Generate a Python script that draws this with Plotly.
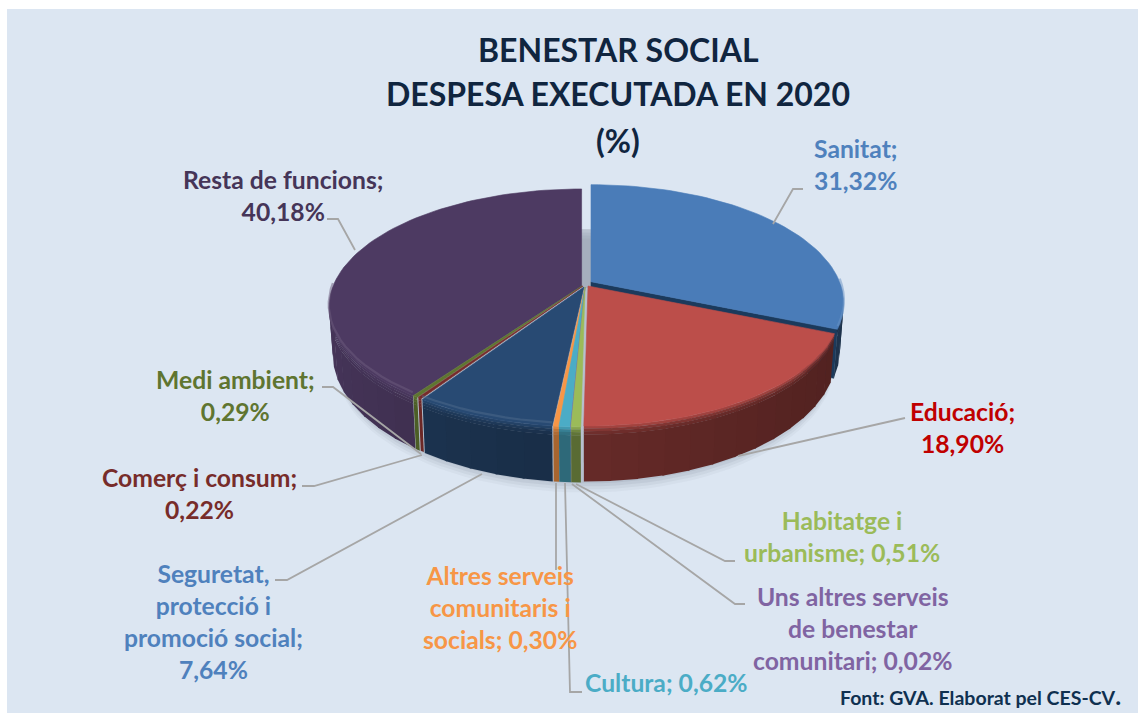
import math
import plotly.graph_objects as go

# ---- data ----
categories = ["Sanitat", "Educació", "Habitatge i urbanisme", "Uns altres serveis de benestar comunitari",
              "Cultura", "Altres serveis comunitaris i socials", "Seguretat, protecció i promoció social",
              "Comerç i consum", "Medi ambient", "Resta de funcions"]
values = [31.32, 18.90, 0.51, 0.02, 0.62, 0.30, 7.64, 0.22, 0.29, 40.18]
top_colors = ["#4a7cb8", "#bc4e4a", "#9bbb59", "#8064a2", "#4bacc6", "#f79646", "#284a73", "#772c2a", "#5f7530", "#4d3a62"]
label_colors = ["#4f81bd", "#c00000", "#9bbb59", "#8064a2", "#4bacc6", "#f79646", "#4f81bd", "#772c2a", "#5f7530", "#453558"]
side_factors = [0.45, 0.47, 0.57, 0.6, 0.6, 0.66, 0.6, 0.8, 0.7, 0.72]
label_templates = ["Sanitat;<br>{v}", "Educació;<br>{v}", "Habitatge i<br>urbanisme; {v}",
                   "Uns altres serveis<br>de benestar<br>comunitari; {v}", "Cultura; {v}",
                   "Altres serveis<br>comunitaris i<br>socials; {v}", "Seguretat,<br>protecció i<br>promoció social;<br>{v}",
                   "Comerç i consum;<br>{v}", "Medi ambient;<br>{v}", "Resta de funcions;<br>{v}"]
title_lines = ["BENESTAR SOCIAL", "DESPESA EXECUTADA EN 2020", "(%)"]
source_text = "Font: GVA. Elaborat pel CES-CV<span style='font-size:25px'>.</span>"

# ---- layout of the drawing (pixels) ----
W, H = 1138, 713
CX, CY, R, K, P = 585, 286, 248.5, 114.6, 0.181
DEPTH = 45.5
offsets = [(6, -4.3), (3, 0), (0, 1), (0, 1), (0, 1), (0, 1), (-1, 1), (-2, 0), (-3, 0), (-3.4, 0)]
label_pos = [(856, 164), (962, 427), (842, 536), (853, 628), (666, 682), (500, 607), (213, 621), (199, 493), (235, 395), (283, 195)]
title_y = [49, 93, 140]
leaders = [
    [(803, 189), (793, 189), (773, 224)], [(905, 418), (738, 456)], [(735, 561), (725, 561), (576, 484)],
    [(745, 604), (735, 604), (572, 484)], [(582, 692), (570, 692), (565, 483)], [(556, 570), (556, 483)],
    [(275, 580), (287, 580), (482, 474)], [(302, 486), (314, 486), (422, 455)], [(322, 387), (333, 387), (421, 454)],
    [(327, 219), (338, 219), (355, 250)],
]


def proj(t, ox=0, oy=0, d=0.0):
    X, Y = math.sin(t), math.cos(t)
    s = 1 / (1 + P * Y)
    x = R * X * s
    y = -K * Y * s
    x *= 1 - 0.015 * d / DEPTH
    return CX + ox + x, CY + oy + y + d * s


def hex2rgb(c):
    return tuple(int(c[i:i + 2], 16) for i in (1, 3, 5))


def rgb(c):
    return "rgb(%d,%d,%d)" % tuple(max(0, min(255, round(v))) for v in c)


def mix(a, b, f):
    return tuple(a[i] + (b[i] - a[i]) * f for i in range(3))


def poly(fig, pts, color, lw=0.6):
    xs = [p[0] for p in pts] + [pts[0][0]]
    ys = [p[1] for p in pts] + [pts[0][1]]
    line = dict(color=color, width=lw) if lw else dict(width=0)
    fig.add_trace(go.Scatter(x=xs, y=ys, mode="lines", fill="toself", fillcolor=color,
                             line=line, hoverinfo="skip", showlegend=False))


fig = go.Figure()

# slice angles come from the values
total = sum(values)
angles = []
acc = 0.0
for v in values:
    angles.append((acc / total * 2 * math.pi, (acc + v) / total * 2 * math.pi))
    acc += v

# ground shadow
for i, alpha in enumerate([0.05, 0.07, 0.09, 0.10]):
    shift = 11 - i * 3
    pts = [proj(a / 60 * math.pi, 0, shift, DEPTH) for a in range(0, 121)]
    poly(fig, pts, "rgba(90,100,120,%.2f)" % alpha, 0)


def side_shade(t):
    if math.sin(t) < 0:
        return 1 + 0.25 * (-math.sin(t))
    return 1.15 - 0.25 * math.sin(t)


def draw_slice(i):
    a0, a1 = angles[i]
    ox, oy = offsets[i]
    base = hex2rgb(top_colors[i])
    side_col = tuple(v * side_factors[i] for v in base)
    # radial wall of the slice, where it shows
    if i == 0:
        pa = (CX + ox, CY + oy)
        pb = proj(a1, ox, oy)
        pc = proj(a1, ox, oy, DEPTH)
        pd = (CX + ox, CY + oy + DEPTH)
        poly(fig, [pa, pb, pc, pd], "#1b3a5c")
    # curved side
    lo, hi = max(a0, math.pi / 2), min(a1, 3 * math.pi / 2)
    if hi > lo:
        n = max(1, int((hi - lo) / math.radians(5)))
        bands = [(0, 2.4, 0.3), (2.2, 4.6, 0.65), (4.4, 7.2, 0.88), (7, DEPTH, 1.0)]
        overlap = math.radians(0.4)
        for k in range(n):
            t0 = lo + (hi - lo) * k / n
            t1 = min(hi, lo + (hi - lo) * (k + 1) / n + overlap)
            sc = tuple(v * side_shade((t0 + t1) / 2) for v in side_col)
            for d0, d1, f in bands:
                col = mix(base, sc, f)
                poly(fig, [proj(t0, ox, oy, d0), proj(t1, ox, oy, d0), proj(t1, ox, oy, d1), proj(t0, ox, oy, d1)], rgb(col), 0)
    # top face
    n = max(2, int((a1 - a0) / math.radians(2)))
    pts = [(CX + ox, CY + oy)] + [proj(a0 + (a1 - a0) * k / n, ox, oy) for k in range(n + 1)]
    poly(fig, pts, rgb(base))
    # rim highlight along the front edge
    if hi > lo and values[i] > 1 and i != 1:
        m = max(2, int((hi - lo) / math.radians(3)))
        rim = [proj(lo + (hi - lo) * k / m, ox, oy, -3.0) for k in range(m + 1)]
        fig.add_trace(go.Scatter(x=[p[0] for p in rim], y=[p[1] for p in rim], mode="lines",
                                 line=dict(color=rgb(mix(base, (255, 255, 255), 0.18)), width=2.2),
                                 opacity=0.5, hoverinfo="skip", showlegend=False))


for i in [0, 9, 1, 8, 7, 6, 5, 4, 3, 2]:
    draw_slice(i)

# leader lines
for pts in leaders:
    fig.add_trace(go.Scatter(x=[p[0] for p in pts], y=[p[1] for p in pts], mode="lines",
                             line=dict(color="#a6a6a6", width=1.8), hoverinfo="skip", showlegend=False))

ann = []
for tpl, v, col, (x, y) in zip(label_templates, values, label_colors, label_pos):
    txt = tpl.format(v=f"{v:.2f}".replace(".", ",") + "%")
    ann.append(dict(x=x, y=y, xref="x", yref="y", text="<b>%s</b>" % txt, showarrow=False, align="center",
                    xanchor="center", yanchor="middle",
                    font=dict(family="Lato", size=24.7, color=col)))
for line, y in zip(title_lines, title_y):
    ann.append(dict(x=618, y=y, xref="x", yref="y", text="<b>%s</b>" % line, showarrow=False, align="center",
                    xanchor="center", yanchor="middle", font=dict(family="Lato", size=32, color="#10253f")))
ann.append(dict(x=1123, y=695, xref="x", yref="y", text="<b>%s</b>" % source_text, showarrow=False, align="right",
                xanchor="right", yanchor="middle", font=dict(family="Lato", size=19.5, color="#0f3050")))

fig.update_layout(
    width=W, height=H, margin=dict(l=0, r=0, t=0, b=0), paper_bgcolor="white", plot_bgcolor="white",
    showlegend=False, annotations=ann,
    xaxis=dict(range=[0, W], visible=False, fixedrange=True),
    yaxis=dict(range=[H, 0], visible=False, fixedrange=True),
    shapes=[
        dict(type="rect", xref="x", yref="y", x0=7, y0=9, x1=W, y1=H, fillcolor="#dce6f2", line_width=0, layer="below"),
        dict(type="rect", xref="x", yref="y", x0=580, y0=229, x1=592, y1=288, fillcolor="#c6cfdb", line_width=0, layer="below"),
    ],
)
fig.write_html("out.html", config=dict(displayModeBar=False),
               post_script="document.body.style.margin='0';document.body.style.overflow='hidden';")
